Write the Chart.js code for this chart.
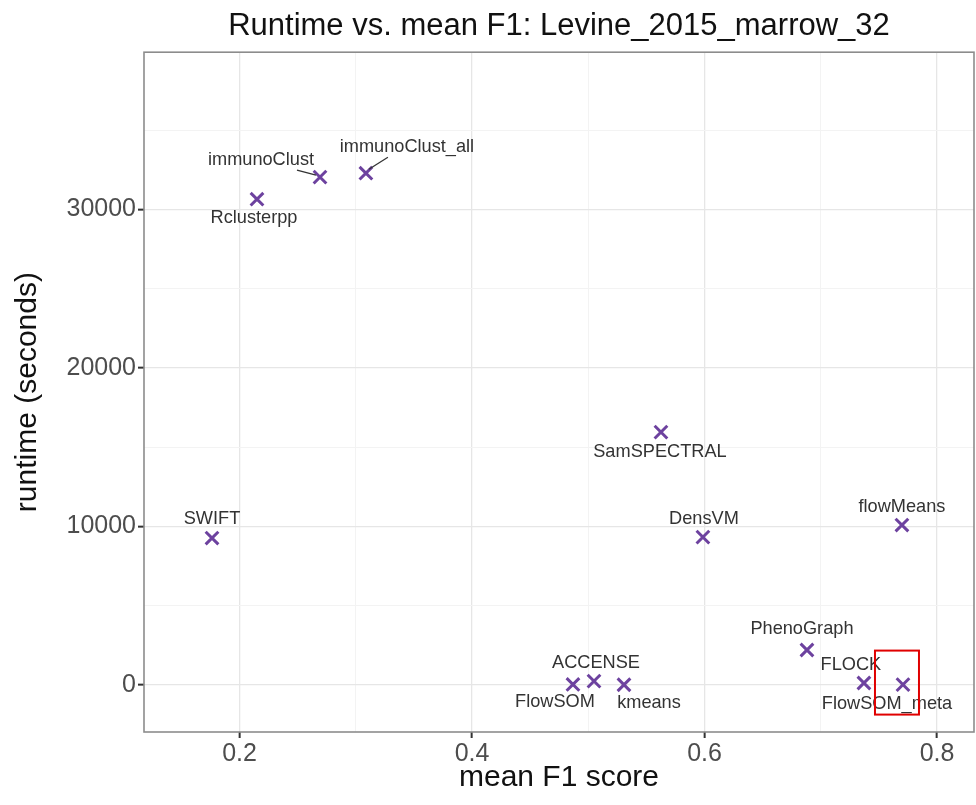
<!DOCTYPE html>
<html><head><meta charset="utf-8">
<script src="https://cdn.jsdelivr.net/npm/chart.js@4"></script>
<style>html,body{margin:0;padding:0;background:#fff;overflow:hidden;} canvas{display:block;}</style>
</head><body>
<canvas id="c" width="976" height="805"></canvas>
<script>
// ---- data ----
const methods = ['SWIFT','Rclusterpp','immunoClust','immunoClust_all','FlowSOM','ACCENSE','kmeans','SamSPECTRAL','DensVM','PhenoGraph','FLOCK','flowMeans','FlowSOM_meta'];
const meanF1 = [0.1763,0.2150,0.2692,0.3087,0.4868,0.5049,0.5307,0.5625,0.5986,0.6881,0.7371,0.7698,0.7707];
const runtimeSec = [9270,30640,32030,32280,40,250,20,15950,9330,2210,130,10090,30];
const xMajorTicks = [0.2,0.4,0.6,0.8];
const xMinorTicks = [0.3,0.5,0.7];
const yMajorTicks = [0,10000,20000,30000];
const yMinorTicks = [5000,15000,25000,35000];
const highlighted = 'FlowSOM_meta';

// label placement (pixel offsets from each point), connectors for repelled labels
const labelOffsets = {SWIFT:[0,-19],Rclusterpp:[-3,19],immunoClust:[-59,-17],immunoClust_all:[41,-26],FlowSOM:[-18,18],ACCENSE:[2,-18],kmeans:[25,18],SamSPECTRAL:[-1,20],DensVM:[1,-18],PhenoGraph:[-5,-21],FLOCK:[-13,-18],flowMeans:[0,-18],FlowSOM_meta:[-16,19]};
const connectors = {immunoClust:[[-23,-7],[-4,-2]], immunoClust_all:[[22,-16],[3,-4]]};

const FONT = '"Liberation Sans", Arial, Helvetica, sans-serif';

const labelPlugin = {
  id: 'labels',
  afterDatasetsDraw(chart) {
    const ctx = chart.ctx, xs = chart.scales.x, ys = chart.scales.y;
    ctx.save();
    ctx.font = '18.2px ' + FONT;
    ctx.fillStyle = '#333';
    ctx.textAlign = 'center';
    ctx.textBaseline = 'middle';
    methods.forEach((m, i) => {
      const px = xs.getPixelForValue(meanF1[i]);
      const py = ys.getPixelForValue(runtimeSec[i]);
      const off = labelOffsets[m] || [0,-18];
      ctx.fillText(m, px + off[0], py + off[1]);
      if (connectors[m]) {
        const c = connectors[m];
        ctx.strokeStyle = '#333'; ctx.lineWidth = 1.3;
        ctx.beginPath();
        ctx.moveTo(px + c[0][0], py + c[0][1]);
        ctx.lineTo(px + c[1][0], py + c[1][1]);
        ctx.stroke();
      }
      if (m === highlighted) {
        ctx.strokeStyle = '#e00000'; ctx.lineWidth = 2;
        ctx.strokeRect(px - 28, py - 34, 44, 64);
      }
    });
    ctx.restore();
  }
};

const borderPlugin = {
  id: 'panelBorder',
  afterDraw(chart) {
    const a = chart.chartArea, ctx = chart.ctx;
    ctx.save();
    ctx.strokeStyle = '#8c8c8c'; ctx.lineWidth = 1.6;
    ctx.strokeRect(a.left, a.top, a.right - a.left, a.bottom - a.top);
    ctx.restore();
  }
};

function tickBuilder(majors, minors) {
  return (scale) => {
    scale.ticks = majors.concat(minors).sort((a,b)=>a-b).map(v => ({value: v}));
  };
}

new Chart(document.getElementById('c'), {
  type: 'scatter',
  data: {
    datasets: [{
      data: methods.map((m, i) => ({x: meanF1[i], y: runtimeSec[i]})),
      pointStyle: 'crossRot',
      pointRadius: 9,
      pointBorderWidth: 3,
      borderColor: '#6d429f',
      backgroundColor: '#6d429f'
    }]
  },
  options: {
    responsive: false,
    animation: false,
    devicePixelRatio: 1,
    layout: {autoPadding: false, padding: {left: 0, right: 2, top: 0, bottom: 0}},
    plugins: {
      legend: {display: false},
      tooltip: {enabled: false},
      title: {
        display: true,
        text: 'Runtime vs. mean F1: Levine_2015_marrow_32',
        color: '#111',
        font: {family: FONT, size: 31, weight: 'normal'},
        padding: {top: 8, bottom: 7},
        fullSize: false
      }
    },
    scales: {
      x: {
        type: 'linear',
        min: 0.1178, max: 0.8318,
        afterBuildTicks: tickBuilder(xMajorTicks, xMinorTicks),
        afterFit: (s) => { s.height = 73; s.paddingLeft = 0; s.paddingRight = 0; },
        ticks: {
          autoSkip: false, maxRotation: 0,
          color: '#4d4d4d',
          font: {family: FONT, size: 25},
          padding: 1,
          callback: (v) => xMajorTicks.includes(v) ? v.toFixed(1) : ''
        },
        grid: {
          color: (c) => xMajorTicks.includes(c.tick && c.tick.value) ? '#e6e6e6' : '#f3f3f3',
          lineWidth: (c) => xMajorTicks.includes(c.tick && c.tick.value) ? 1.3 : 1,
          tickColor: (c) => xMajorTicks.includes(c.tick && c.tick.value) ? '#333' : 'rgba(0,0,0,0)',
          tickLength: 6,
          tickWidth: 2
        },
        border: {display: false},
        title: {
          display: true, text: 'mean F1 score', color: '#111',
          font: {family: FONT, size: 30},
          padding: {top: 9, bottom: 9}
        }
      },
      y: {
        type: 'linear',
        min: -2960, max: 39910,
        afterBuildTicks: tickBuilder(yMajorTicks, yMinorTicks),
        afterFit: (s) => { s.width = 144; s.paddingTop = 0; s.paddingBottom = 0; },
        ticks: {
          autoSkip: false,
          color: '#4d4d4d',
          font: {family: FONT, size: 25},
          padding: 2,
          callback: (v) => yMajorTicks.includes(v) ? String(v) : ''
        },
        grid: {
          color: (c) => yMajorTicks.includes(c.tick && c.tick.value) ? '#e6e6e6' : '#f3f3f3',
          lineWidth: (c) => yMajorTicks.includes(c.tick && c.tick.value) ? 1.3 : 1,
          tickColor: (c) => yMajorTicks.includes(c.tick && c.tick.value) ? '#333' : 'rgba(0,0,0,0)',
          tickLength: 6,
          tickWidth: 2
        },
        border: {display: false},
        title: {
          display: true, text: 'runtime (seconds)', color: '#111',
          font: {family: FONT, size: 30},
          padding: {top: 10, bottom: 10}
        }
      }
    }
  },
  plugins: [labelPlugin, borderPlugin]
});
</script>
</body></html>
